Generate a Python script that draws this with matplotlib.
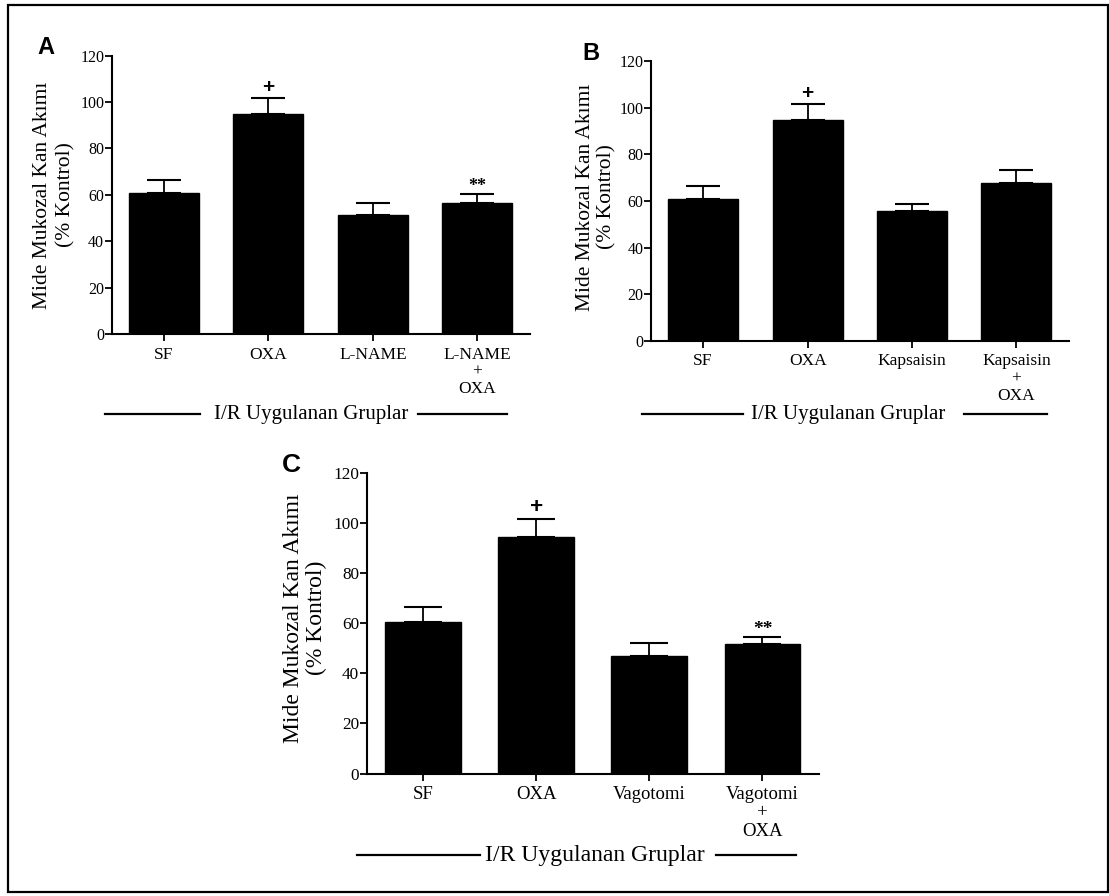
import numpy as np
import matplotlib
matplotlib.use('Agg')
import matplotlib.pyplot as plt
from matplotlib.lines import Line2D
from matplotlib.patches import Rectangle

plt.rcParams['font.family'] = ['Liberation Serif', 'DejaVu Serif']

W, H = 1109, 896

labels_a = ['SF', 'OXA', 'L-NAME', 'L-NAME\n+\nOXA']
means_a = [60.7, 94.8, 51.2, 56.4]
sem_a = [5.8, 6.9, 5.5, 4.0]
marks_a = ['', '+', '', '**']

labels_b = ['SF', 'OXA', 'Kapsaisin', 'Kapsaisin\n+\nOXA']
means_b = [60.7, 94.8, 55.7, 67.9]
sem_b = [5.9, 6.9, 3.1, 5.6]
marks_b = ['', '+', '', '']

labels_c = ['SF', 'OXA', 'Vagotomi', 'Vagotomi\n+\nOXA']
means_c = [60.5, 94.5, 46.7, 51.6]
sem_c = [5.9, 7.0, 5.4, 2.9]
marks_c = ['', '+', '', '**']

yticks = [0, 20, 40, 60, 80, 100, 120]
ylab = 'Mide Mukozal Kan Akımı\n(% Kontrol)'
group = 'I/R Uygulanan Gruplar'


def fx(x):
    return x / W


def fy(y):
    return 1 - y / H


fig = plt.figure(figsize=(W / 100, H / 100), dpi=100)


def panel(rect, labels, means, sem, marks, s):
    # rect: left, top(120), right, bottom(0) in pixels
    x0, y1, x2, y0 = rect
    ax = fig.add_axes([fx(x0), fy(y0), fx(x2 - x0), (y0 - y1) / H])
    x = np.arange(len(means))
    ax.bar(x, means, width=0.67, color='black', edgecolor='black', zorder=2)
    ax.errorbar(x, means, yerr=[np.zeros(len(sem)), sem], fmt='none',
                ecolor='black', elinewidth=1.3, capsize=12.5 * s, capthick=1.5, zorder=1)
    for xi, m, e, t in zip(x, means, sem, marks):
        if t:
            ax.annotate(t, (xi, m + e), xytext=(0, 1 if t == '+' else -1),
                        textcoords='offset points', ha='center', va='bottom',
                        fontsize=(15 if t == '+' else 13) * s, fontweight='bold',
                        family=['Liberation Sans'] if t == '+' else ['Liberation Serif'])
    ax.set_xlim(-0.5, 3.5)
    ax.set_ylim(0, 120)
    ax.set_yticks(yticks)
    ax.set_xticks(x)
    ax.set_xticklabels(labels, fontsize=12.5 * s, linespacing=1.1)
    ax.tick_params(axis='y', labelsize=11.5 * s, length=5, width=1.3, pad=0.5)
    ax.tick_params(axis='x', length=5, width=1.3, pad=4)
    for side in ['top', 'right']:
        ax.spines[side].set_visible(False)
    for side in ['left', 'bottom']:
        ax.spines[side].set_linewidth(1.5)
    return ax


def group_line(y, l1, l2, r1, r2, cx, size):
    fig.add_artist(Line2D([fx(l1), fx(l2)], [fy(y), fy(y)], color='black', lw=1.6))
    fig.add_artist(Line2D([fx(r1), fx(r2)], [fy(y), fy(y)], color='black', lw=1.6))
    fig.text(fx(cx), fy(y), group, fontsize=size, ha='center', va='center')


# panel A
panel((111.8, 55.7, 529.6, 334), labels_a, means_a, sem_a, marks_a, 1.0)
fig.text(fx(46), fy(47), 'A', fontsize=17, fontweight='bold', family=['Liberation Sans'],
         ha='center', va='center')
fig.text(fx(54), fy(195), ylab, fontsize=15.5, rotation=90, ha='center', va='center',
         linespacing=1.3)
group_line(414, 105, 200, 418, 507, 311, 15)

# panel B
panel((650.9, 61.3, 1068.7, 340.7), labels_b, means_b, sem_b, marks_b, 1.0)
fig.text(fx(591), fy(53), 'B', fontsize=17, fontweight='bold', family=['Liberation Sans'],
         ha='center', va='center')
fig.text(fx(596), fy(197), ylab, fontsize=15.5, rotation=90, ha='center', va='center',
         linespacing=1.15)
group_line(414, 642, 743, 964, 1047, 848, 15)

# panel C
panel((366.6, 472.7, 819, 773.5), labels_c, means_c, sem_c, marks_c, 1.08)
fig.text(fx(291), fy(465), 'C', fontsize=19, fontweight='bold', family=['Liberation Sans'],
         ha='center', va='center')
fig.text(fx(305), fy(618), ylab, fontsize=17, rotation=90, ha='center', va='center',
         linespacing=1.15)
group_line(855, 357, 480, 716, 796, 595, 17)

# outer frame
fig.add_artist(Rectangle((fx(8), fy(892)), fx(1108 - 8), (892 - 5) / H, fill=False,
                         edgecolor='black', lw=1.6, transform=fig.transFigure))

fig.savefig('out.png', dpi=100)
